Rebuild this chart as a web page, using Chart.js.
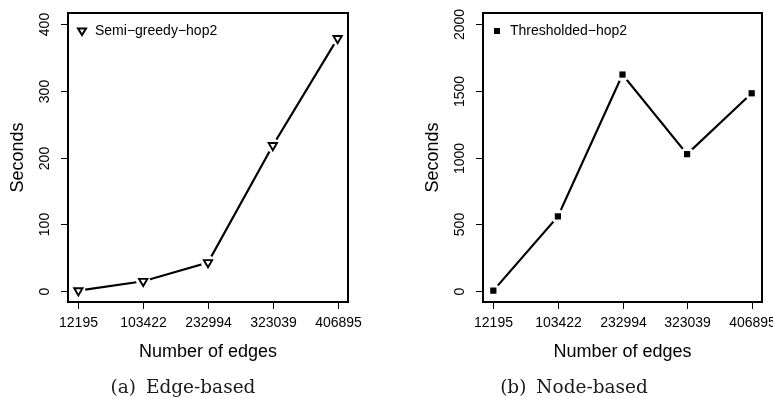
<!DOCTYPE html>
<html>
<head>
<meta charset="utf-8">
<script src="https://cdn.jsdelivr.net/npm/chart.js@4"></script>
<style>
  html, body { margin: 0; padding: 0; background: #fff; }
  body { width: 773px; height: 399px; position: relative; overflow: hidden; }
  canvas { position: absolute; top: 0; }
  .caption {
    position: absolute; top: 376px; width: 300px; text-align: center;
    font-family: "DejaVu Serif", "Liberation Serif", serif; font-size: 18.5px; color: #1a1a1a;
    word-spacing: 4px;
  }
</style>
</head>
<body>
<canvas id="edgeChart" width="390" height="399" style="left:0"></canvas>
<canvas id="nodeChart" width="383" height="399" style="left:390px"></canvas>
<div class="caption" style="left:33px">(a) Edge-based</div>
<div class="caption" style="left:424px">(b) Node-based</div>
<script>
// Data
const edgeCounts = ["12195", "103422", "232994", "323039", "406895"];
const semiGreedySeconds = [1, 15, 43, 218, 378];
const thresholdedSeconds = [5, 560, 1620, 1025, 1480];
const edgeYTicks = [0, 100, 200, 300, 400];
const nodeYTicks = [0, 500, 1000, 1500, 2000];

const FONT = '"Liberation Sans", Arial, Helvetica, sans-serif';

function toPoints(values) {
  return values.map((v, i) => ({ x: i, y: v }));
}

// Draws the R-like frame, ticks, labels and legend
const framePlugin = {
  id: "frame",
  afterDraw(chart, args, opts) {
    const { ctx, chartArea: a, scales } = chart;
    const xs = scales.x;
    const ys = scales.y;
    ctx.save();
    ctx.strokeStyle = "#000";
    ctx.fillStyle = "#000";

    // box
    ctx.lineWidth = 2;
    ctx.strokeRect(a.left, a.top, a.right - a.left, a.bottom - a.top);

    // x ticks
    ctx.lineWidth = 1;
    ctx.font = "14px " + FONT;
    ctx.textAlign = "center";
    ctx.textBaseline = "middle";
    edgeCounts.forEach((lab, i) => {
      const px = Math.round(xs.getPixelForValue(i)) + 0.5;
      ctx.beginPath();
      ctx.moveTo(px, a.bottom);
      ctx.lineTo(px, a.bottom + 7);
      ctx.stroke();
      ctx.fillText(lab, px, a.bottom + 21);
    });

    // y ticks (rotated labels)
    opts.yTicks.forEach((v) => {
      const py = Math.round(ys.getPixelForValue(v)) + 0.5;
      ctx.beginPath();
      ctx.moveTo(a.left, py);
      ctx.lineTo(a.left - 7, py);
      ctx.stroke();
      ctx.save();
      ctx.translate(a.left - 23, py);
      ctx.rotate(-Math.PI / 2);
      ctx.fillText(String(v), 0, 0);
      ctx.restore();
    });

    // axis titles
    ctx.font = "18px " + FONT;
    ctx.fillText("Number of edges", (a.left + a.right) / 2, a.bottom + 50);
    ctx.save();
    ctx.translate(a.left - 50, (a.top + a.bottom) / 2);
    ctx.rotate(-Math.PI / 2);
    ctx.fillText("Seconds", 0, 0);
    ctx.restore();

    // legend
    const lx = a.left + 14;
    const ly = a.top + 18;
    if (opts.marker === "triangle") {
      ctx.lineWidth = 2;
      ctx.beginPath();
      ctx.moveTo(lx - 4, ly - 2.6);
      ctx.lineTo(lx + 4, ly - 2.6);
      ctx.lineTo(lx, ly + 4);
      ctx.closePath();
      ctx.stroke();
    } else {
      ctx.fillRect(lx - 3, ly - 3, 6, 6);
    }
    ctx.font = "14px " + FONT;
    ctx.textAlign = "left";
    ctx.fillText(opts.label, lx + 13, ly);
    ctx.restore();
  },
};

function makeChart(canvasId, values, yMin, yMax, yTicks, marker, label, padding) {
  const pts = toPoints(values);
  const markerDs = marker === "triangle"
    ? { pointStyle: "triangle", rotation: 180, radius: 4.8, pointBackgroundColor: "#fff", pointBorderWidth: 1.9 }
    : { pointStyle: "rect", rotation: 0, radius: 4.4, pointBackgroundColor: "#000", pointBorderWidth: 0 };

  return new Chart(document.getElementById(canvasId).getContext("2d"), {
    type: "scatter",
    data: {
      datasets: [
        {
          label: label,
          data: pts,
          showLine: false,
          pointStyle: markerDs.pointStyle,
          pointRotation: markerDs.rotation,
          pointRadius: markerDs.radius,
          pointBackgroundColor: markerDs.pointBackgroundColor,
          pointBorderColor: "#000",
          pointBorderWidth: markerDs.pointBorderWidth,
        },
        {
          // white halo so the line stops short of the markers (type="b")
          label: "halo",
          data: pts,
          showLine: false,
          pointStyle: "circle",
          pointRadius: 7,
          pointBackgroundColor: "#fff",
          pointBorderWidth: 0,
        },
        {
          label: "line",
          data: pts,
          showLine: true,
          borderColor: "#000",
          borderWidth: 2.2,
          pointRadius: 0,
          fill: false,
        },
      ],
    },
    options: {
      responsive: false,
      animation: false,
      devicePixelRatio: 1,
      layout: { padding: padding },
      plugins: {
        legend: { display: false },
        tooltip: { enabled: false },
        frame: { yTicks: yTicks, marker: marker, label: label },
      },
      scales: {
        x: { type: "linear", min: -0.16, max: 4.16, display: false },
        y: { type: "linear", min: yMin, max: yMax, display: false },
      },
    },
    plugins: [framePlugin],
  });
}

makeChart("edgeChart", semiGreedySeconds, -16, 416, edgeYTicks, "triangle",
  "Semi\u2212greedy\u2212hop2", { left: 68, right: 42, top: 13, bottom: 97 });
makeChart("nodeChart", thresholdedSeconds, -80, 2080, nodeYTicks, "square",
  "Thresholded\u2212hop2", { left: 93, right: 11, top: 13, bottom: 97 });
</script>
</body>
</html>
